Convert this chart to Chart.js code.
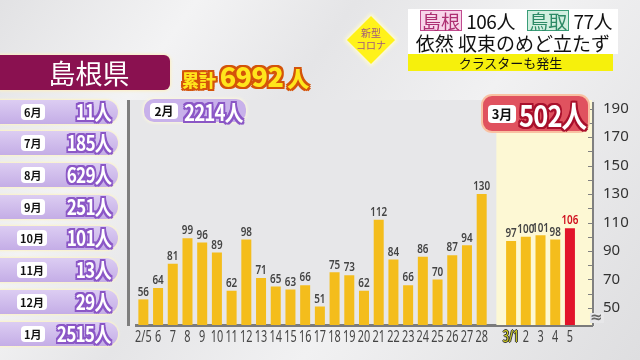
<!DOCTYPE html>
<html>
<head>
<meta charset="utf-8">
<script src="https://cdn.jsdelivr.net/npm/chart.js@4.4.1/dist/chart.umd.min.js"></script>
<style>
  body {
    margin: 0; width: 640px; height: 360px; overflow: hidden; position: relative;
    font-family: "Noto Sans CJK JP", sans-serif;
    background: linear-gradient(125deg, #e2e2e4 0%, #f3f3f4 22%, #e5e5e7 40%, #f1f1f2 62%, #dedee0 100%);
  }
  .abs { position: absolute; }
  #panel { left: 127px; top: 100px; width: 465px; height: 226px; background: #e7e7e9; border-left: 3px solid #7e7e7e; }
  #chart { left: 0; top: 0; }
  .ol-purple { color: #fff; text-shadow: -2px -2px 0 #8b57c6, 2px -2px 0 #8b57c6, -2px 2px 0 #8b57c6, 2px 2px 0 #8b57c6, 0 2px 0 #8b57c6, 0 -2px 0 #8b57c6, 2px 0 0 #8b57c6, -2px 0 0 #8b57c6; }
  .ol-red { color: #fff; text-shadow: -2px -2px 0 #a8102c, 2px -2px 0 #a8102c, -2px 2px 0 #a8102c, 2px 2px 0 #a8102c, 0 2px 0 #a8102c, 0 -2px 0 #a8102c, 2px 0 0 #a8102c, -2px 0 0 #a8102c; }
  .ol-orange { color: #ffe61c; text-shadow: -2px -2px 0 #d4540a, 2px -2px 0 #d4540a, -2px 2px 0 #d4540a, 2px 2px 0 #d4540a, 0 2px 0 #d4540a, 0 -2px 0 #d4540a, 2px 0 0 #d4540a, -2px 0 0 #d4540a; }
  .tag { background: #fff; color: #111; font-weight: 700; border-radius: 4px; display: inline-block; text-align: center; white-space: nowrap; }
  .row { left: 0; width: 118px; height: 24px; background: linear-gradient(#dccdf2, #c4ade6); border-radius: 0 12px 12px 0;
         box-shadow: 0 0 2px 1px #fbf3c8; }
  .row .tag { position: absolute; top: 4px; height: 16px; font-size: 11px; line-height: 16px; padding: 0 3px; }
  .row .num { position: absolute; right: 7px; top: -3px; font-size: 21px; font-weight: 700; letter-spacing: -1px; line-height: 28px;
              white-space: nowrap; transform: scaleX(0.82); transform-origin: right center; }
  .cond { display: inline-block; white-space: nowrap; transform: scaleX(0.85); transform-origin: left center; }
</style>
</head>
<body>
<div id="panel" class="abs"></div>
<canvas id="chart" class="abs" width="640" height="360"></canvas>

<!-- header -->
<div class="abs" style="left:0;top:55px;width:170px;height:35px;background:#8a1150;border-radius:0 6px 6px 0;box-shadow:0 0 3px 1px #fbefc0;color:#fff;font-size:27px;line-height:35px;text-align:center;padding-left:8px;box-sizing:border-box;">島根県</div>
<div class="abs ol-orange" style="left:182px;top:56px;font-weight:900;white-space:nowrap;">
  <span style="font-size:17px;">累計</span>
  <span style="font-size:27px;letter-spacing:-0.5px;">6992</span>
  <span style="font-size:22px;">人</span>
</div>

<div id="months"></div>

<!-- 2月 -->
<div class="abs" style="left:144px;top:99px;width:102px;height:23px;background:#c8b1ea;border-radius:10px;box-shadow:0 0 3px 1px #fbf6dc;">
  <span class="tag" style="position:absolute;left:6px;top:4px;width:28px;height:16px;font-size:12px;line-height:16px;">2月</span>
  <span class="ol-purple cond" style="position:absolute;left:40px;top:-4px;font-size:22px;font-weight:700;letter-spacing:-1px;">2214人</span>
</div>

<!-- 3月 -->
<div class="abs" style="left:483px;top:96px;width:105px;height:35px;background:#e0525f;border-radius:9px;box-shadow:0 0 0 2px #f9c1a2;">
  <span class="tag" style="position:absolute;left:5px;top:9px;width:28px;height:18px;font-size:13px;line-height:18px;">3月</span>
  <span class="ol-red cond" style="position:absolute;left:36px;top:-4px;font-size:30px;font-weight:700;letter-spacing:-1px;">502人</span>
</div>

<!-- top right -->
<div class="abs" style="left:354px;top:23px;width:34px;height:34px;background:#fff21a;transform:rotate(45deg);box-shadow:0 0 4px 2px #fffbd0;"></div>
<div class="abs" style="left:354px;top:27px;width:34px;text-align:center;font-size:10px;line-height:12px;color:#a05a7c;">新型<br>コロナ</div>
<div class="abs" style="left:408px;top:9px;width:210px;height:45px;background:#fff;"></div>
<div class="abs" style="left:420px;top:9px;white-space:nowrap;font-size:19px;line-height:24px;color:#111;">
  <span style="background:#f8d5ea;border:1px solid #c14b8f;color:#ad2f72;padding:0 1px;line-height:19px;display:inline-block;">島根</span>
  <span style="letter-spacing:-0.5px;">106人</span>
  <span style="margin-left:8px;background:#d2efe0;border:1px solid #3a9d78;color:#2d8a66;padding:0 1px;line-height:19px;display:inline-block;">鳥取</span>
  <span style="letter-spacing:-0.5px;">77人</span>
</div>
<div class="abs" style="left:408px;top:31px;width:210px;text-align:center;font-size:19px;line-height:24px;color:#111;white-space:nowrap;">依然 収束のめど立たず</div>
<div class="abs" style="left:408px;top:54px;width:205px;height:17px;background:#f6f00c;text-align:center;font-size:13px;line-height:17px;color:#111;">クラスターも発生</div>

<script>
// daily new cases, Shimane, 2/5 - 3/5 ('' = gap between months / right margin)
const dayLabels = ['2/5','6','7','8','9','10','11','12','13','14','15','16','17','18','19','20','21','22','23','24','25','26','27','28','','3/1','2','3','4','5',''];
const dailyCases = [56,64,81,99,96,89,62,98,71,65,63,66,51,75,73,62,112,84,66,86,70,87,94,130,null,97,100,101,98,106,null];
const yTicks = [50,70,90,110,130,150,170,190];

// monthly totals shown on the left
const monthNames = ['6月','7月','8月','9月','10月','11月','12月','1月'];
const monthTotals = [11,185,629,251,101,13,29,2515];

const marchStart = dayLabels.indexOf('3/1');
const latest = marchStart + 4;

var box = document.getElementById('months');
monthNames.forEach(function (m, i) {
  var r = document.createElement('div');
  r.className = 'abs row';
  r.style.top = (99.6 + i * 31.7) + 'px';
  var left = m.length > 2 ? 17 : 21;
  r.innerHTML = '<span class="tag" style="left:' + left + 'px">' + m + '</span><span class="num ol-purple">' + monthTotals[i] + '人</span>';
  box.appendChild(r);
});

const numFont = '"Noto Sans", "DejaVu Sans", sans-serif';

// draw text squeezed horizontally, like the condensed broadcast font
function squeezed(ctx, text, x, y, sx) {
  ctx.save();
  ctx.translate(x, y);
  ctx.scale(sx, 1);
  ctx.fillText(text, 0, 0);
  ctx.restore();
}

const decor = {
  id: 'decor',
  beforeDatasetsDraw(chart) {
    const {ctx, chartArea, scales} = chart;
    const x0 = scales.x.getPixelForValue(marchStart - 1);
    ctx.save();
    ctx.fillStyle = '#fdf8d4';
    ctx.fillRect(x0, chartArea.top - 3, chartArea.right - x0, chartArea.bottom - chartArea.top + 3);
    ctx.restore();
  },
  afterDatasetsDraw(chart) {
    const {ctx, chartArea, scales} = chart;
    const meta = chart.getDatasetMeta(0);
    ctx.save();
    ctx.textAlign = 'center';
    ctx.textBaseline = 'bottom';
    ctx.font = '600 13px ' + numFont;
    meta.data.forEach(function (bar, i) {
      const v = dailyCases[i];
      if (v == null) return;
      ctx.fillStyle = i === latest ? '#d0101f' : '#444';
      squeezed(ctx, String(v), bar.x, bar.y - 1, 0.76);
    });
    // day labels under the axis
    ctx.textBaseline = 'top';
    ctx.font = '16px ' + numFont;
    dayLabels.forEach(function (lab, i) {
      if (!lab) return;
      const x = scales.x.getPixelForValue(i);
      if (i === marchStart) {
        ctx.fillStyle = '#333';
        [[-1,0],[1,0],[0,-1],[0,1]].forEach(function (d) { squeezed(ctx, lab, x + d[0], chartArea.bottom + 4 + d[1], 0.68); });
        ctx.fillStyle = '#d6d21e';
      } else {
        ctx.fillStyle = '#444';
      }
      squeezed(ctx, lab, x, chartArea.bottom + 4, 0.68);
    });
    // small inward ticks on the right axis
    ctx.strokeStyle = '#808080';
    ctx.lineWidth = 1;
    yTicks.forEach(function (t) {
      [t, t + 10].forEach(function (v) {
        if (v > 190) return;
        const y = Math.round(scales.y.getPixelForValue(v)) + 0.5;
        ctx.beginPath();
        ctx.moveTo(chartArea.right - 4, y);
        ctx.lineTo(chartArea.right, y);
        ctx.stroke();
      });
    });
    // axis break mark
    ctx.fillStyle = '#e7e7e9';
    ctx.fillRect(chartArea.right - 2, chartArea.bottom - 12, 14, 10);
    ctx.fillStyle = '#666';
    ctx.font = 'bold 15px "DejaVu Sans", sans-serif';
    ctx.textAlign = 'left';
    ctx.textBaseline = 'middle';
    ctx.fillText('≈', chartArea.right - 2, chartArea.bottom - 7);
    ctx.restore();
  }
};

new Chart(document.getElementById('chart'), {
  type: 'bar',
  data: {
    labels: dayLabels,
    datasets: [{
      data: dailyCases,
      backgroundColor: dailyCases.map(function (v, i) { return i === latest ? '#e2142a' : '#f4bd1c'; }),
      barPercentage: 0.68,
      categoryPercentage: 1
    }]
  },
  options: {
    responsive: false,
    animation: false,
    layout: { padding: { left: 136, top: 103, right: 0, bottom: 0 } },
    plugins: { legend: { display: false }, tooltip: { enabled: false } },
    scales: {
      x: {
        offset: true,
        grid: { display: false },
        border: { color: '#7b7b7b', width: 3 },
        afterFit: function (s) { s.height = 35; },
        ticks: { display: false }
      },
      y: {
        position: 'right',
        min: 38, max: 194,
        grid: { display: false },
        border: { color: '#808080', width: 3 },
        afterFit: function (s) { s.width = 48; },
        afterBuildTicks: function (s) { s.ticks = yTicks.map(function (v) { return { value: v }; }); },
        ticks: { padding: 3, color: '#333', font: { size: 15, family: numFont } }
      }
    }
  },
  plugins: [decor]
});
</script>
</body>
</html>
